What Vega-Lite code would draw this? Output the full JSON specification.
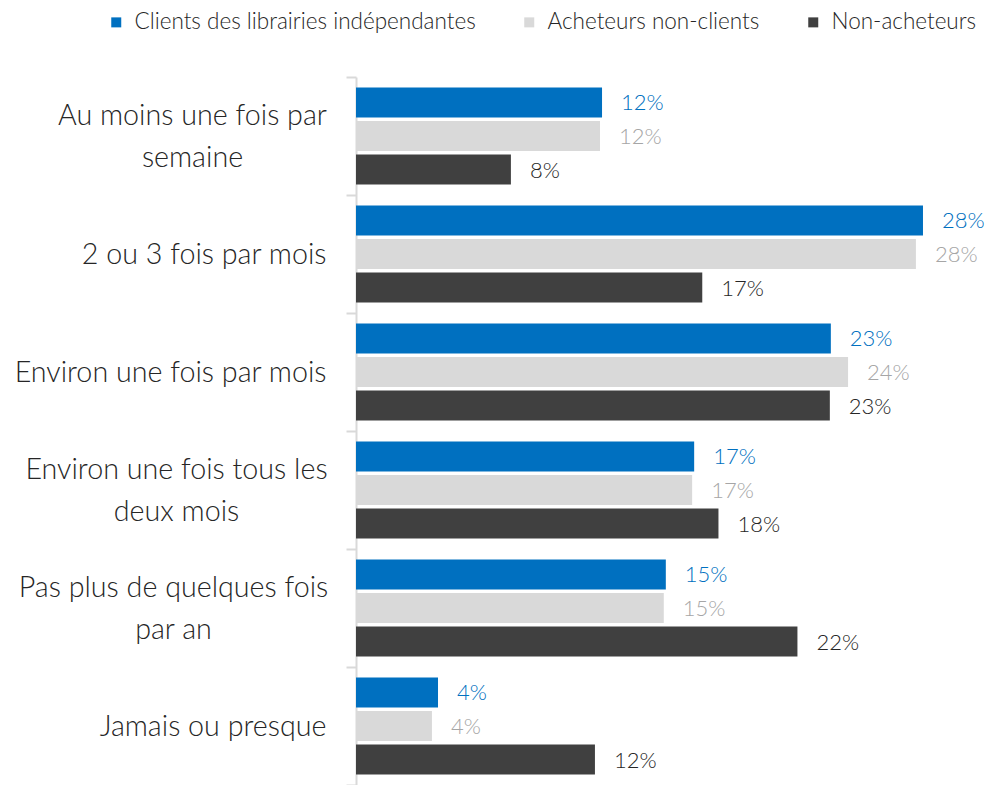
{
  "$schema": "https://vega.github.io/schema/vega-lite/v6.json",
  "autosize": "none",
  "width": 633,
  "height": 708,
  "padding": {"left": 356, "top": 77, "right": 0, "bottom": 0},
  "background": "white",
  "config": {"view": {"stroke": null}, "font": "Lato"},
  "data": {"values": [
    {"cat": "Au moins une fois par semaine", "serie": "Clients des librairies indépendantes", "v": 0.1215},
    {"cat": "Au moins une fois par semaine", "serie": "Acheteurs non-clients", "v": 0.1205},
    {"cat": "Au moins une fois par semaine", "serie": "Non-acheteurs", "v": 0.0765},
    {"cat": "2 ou 3 fois par mois", "serie": "Clients des librairies indépendantes", "v": 0.28},
    {"cat": "2 ou 3 fois par mois", "serie": "Acheteurs non-clients", "v": 0.2765},
    {"cat": "2 ou 3 fois par mois", "serie": "Non-acheteurs", "v": 0.171},
    {"cat": "Environ une fois par mois", "serie": "Clients des librairies indépendantes", "v": 0.2345},
    {"cat": "Environ une fois par mois", "serie": "Acheteurs non-clients", "v": 0.243},
    {"cat": "Environ une fois par mois", "serie": "Non-acheteurs", "v": 0.234},
    {"cat": "Environ une fois tous les deux mois", "serie": "Clients des librairies indépendantes", "v": 0.167},
    {"cat": "Environ une fois tous les deux mois", "serie": "Acheteurs non-clients", "v": 0.166},
    {"cat": "Environ une fois tous les deux mois", "serie": "Non-acheteurs", "v": 0.179},
    {"cat": "Pas plus de quelques fois par an", "serie": "Clients des librairies indépendantes", "v": 0.153},
    {"cat": "Pas plus de quelques fois par an", "serie": "Acheteurs non-clients", "v": 0.152},
    {"cat": "Pas plus de quelques fois par an", "serie": "Non-acheteurs", "v": 0.218},
    {"cat": "Jamais ou presque", "serie": "Clients des librairies indépendantes", "v": 0.0405},
    {"cat": "Jamais ou presque", "serie": "Acheteurs non-clients", "v": 0.0375},
    {"cat": "Jamais ou presque", "serie": "Non-acheteurs", "v": 0.118}
  ]},
  "encoding": {
    "y": {
      "field": "cat", "type": "nominal", "sort": null,
      "scale": {"paddingInner": 0, "paddingOuter": 0},
      "axis": {
        "title": null, "domainColor": "#D9D9D9", "domainWidth": 2,
        "tickColor": "#D9D9D9", "tickWidth": 2, "tickSize": 10, "tickBand": "extent",
        "labelFontSize": 28.7, "labelFontWeight": 300, "labelColor": "#262626", "labelLimit": 400,
        "labelLineHeight": 42, "labelFont": "Lato",
        "labelExpr": "datum.value == 'Au moins une fois par semaine' ? ['Au moins une fois par', 'semaine'] : datum.value == 'Environ une fois tous les deux mois' ? ['Environ une fois tous les', 'deux mois'] : datum.value == 'Pas plus de quelques fois par an' ? ['Pas plus de quelques fois', 'par an'] : datum.value",
        "labelAlign": {"condition": {"test": "indexof(['Au moins une fois par semaine', 'Environ une fois tous les deux mois', 'Pas plus de quelques fois par an'], datum.value) >= 0", "value": "center"}, "value": "right"},
        "labelPadding": {"condition": [
          {"test": "datum.value == 'Au moins une fois par semaine'", "value": 154},
          {"test": "datum.value == 'Environ une fois tous les deux mois'", "value": 170},
          {"test": "datum.value == 'Pas plus de quelques fois par an'", "value": 173}
        ], "value": 20},
        "labelOffset": {"condition": {"test": "indexof(['Au moins une fois par semaine', 'Environ une fois tous les deux mois', 'Pas plus de quelques fois par an'], datum.value) >= 0", "value": -21}, "value": 0}
      }
    },
    "yOffset": {
      "field": "serie", "type": "nominal", "sort": ["Clients des librairies indépendantes", "Acheteurs non-clients", "Non-acheteurs"],
      "scale": {"paddingInner": 0.104, "paddingOuter": 0.31}
    },
    "x": {
      "field": "v", "type": "quantitative",
      "scale": {"domain": [0, 0.3126], "nice": false, "zero": true},
      "axis": null
    }
  },
  "layer": [
    {
      "mark": {"type": "bar", "cornerRadius": 0},
      "encoding": {
        "color": {
          "field": "serie", "type": "nominal",
          "sort": ["Clients des librairies indépendantes", "Acheteurs non-clients", "Non-acheteurs"],
          "scale": {"domain": ["Clients des librairies indépendantes", "Acheteurs non-clients", "Non-acheteurs"], "range": ["#0070C0", "#D9D9D9", "#404040"]},
          "legend": {
            "title": null, "orient": "none", "direction": "horizontal",
            "legendX": -251, "legendY": -66, "padding": 0,
            "symbolType": "square", "symbolSize": 100, "symbolStrokeWidth": 0,
            "labelFontSize": 22.5, "labelFontWeight": 300, "labelColor": "#262626", "labelOffset": 7,
            "columnPadding": 42, "labelLimit": 500, "labelFont": "Lato"
          }
        }
      }
    },
    {
      "mark": {"type": "text", "align": "left", "baseline": "middle", "dx": 19, "dy": 1, "fontSize": 22, "fontWeight": 300, "font": "Lato"},
      "encoding": {
        "text": {"field": "v", "type": "quantitative", "format": ".0%"},
        "color": {
          "field": "serie", "type": "nominal",
          "scale": {"domain": ["Clients des librairies indépendantes", "Acheteurs non-clients", "Non-acheteurs"], "range": ["#0070C0", "#A6A6A6", "#262626"]},
          "legend": null
        }
      }
    }
  ],
  "resolve": {"scale": {"color": "independent"}}
}
